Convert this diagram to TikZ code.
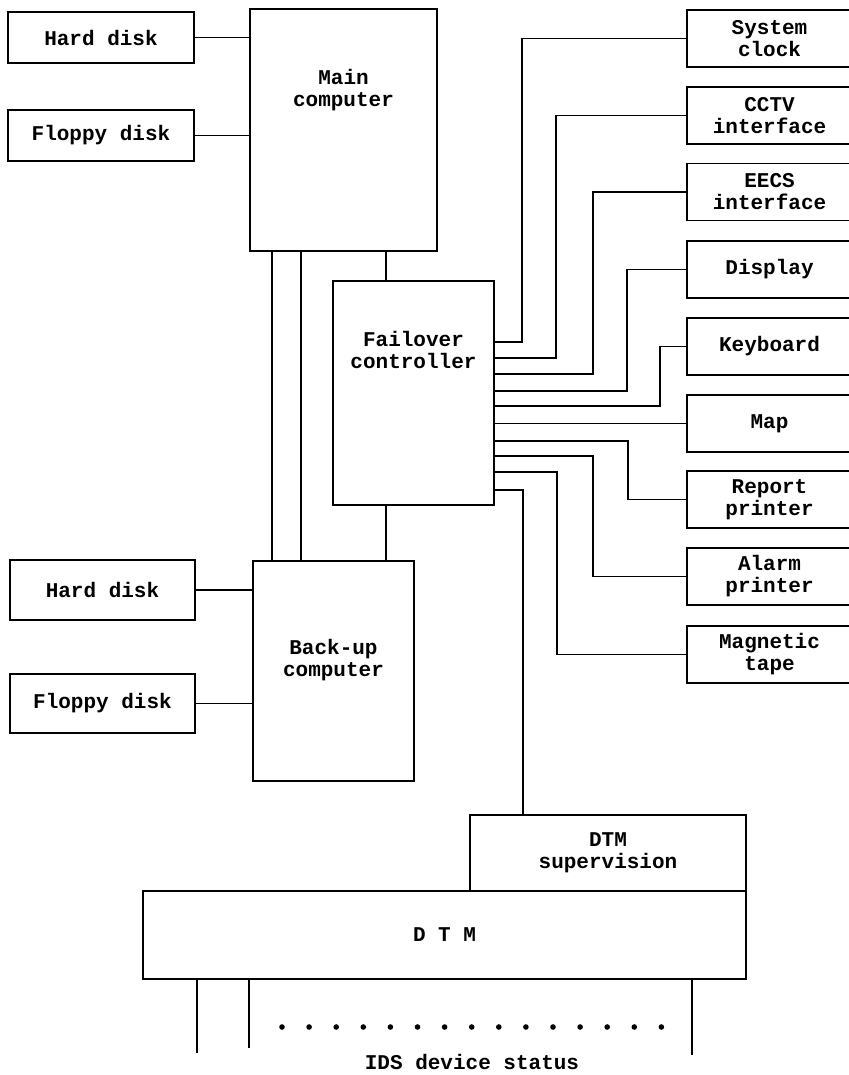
\documentclass[tikz,border=0pt]{standalone}
\usepackage{fontspec}
\setmonofont{Liberation Mono}
\usepackage{tikz}
\usetikzlibrary{positioning,calc}

\begin{document}
\begin{tikzpicture}[
  x=1pt, y=-1pt,
  every node/.style={font=\ttfamily\bfseries\fontsize{21}{22}\selectfont},
  unit/.style={draw, line width=1.3pt, align=center, inner sep=0pt},
  disk/.style={unit, minimum width=186pt, minimum height=51pt},
  side/.style={unit, minimum width=165pt, minimum height=57pt},
  tag/.style={align=center, inner sep=0pt},
  link/.style={line width=1.3pt},
]
\useasboundingbox (0,0) rectangle (848,1075);

% Main side
\node[disk] (hdA) at (101,37.5) {Hard disk};
\node[disk] (fdA) at (101,135.5) {Floppy disk};
\node[unit, minimum width=187pt, minimum height=242pt] (main) at (343.5,130) {};
\node[tag] (maintxt) at (343.5,90) {Main\\computer};

% Failover controller
\node[unit, minimum width=161pt, minimum height=224pt] (fail) at (413.5,393) {};
\node[tag] (failtxt) at (413.5,350) {Failover\\controller};

% Back-up side
\node[disk, minimum width=185pt, minimum height=60pt] (hdB) at (102.5,590) {Hard disk};
\node[disk, minimum width=185pt, minimum height=59pt] (fdB) at (102.5,703.5) {Floppy disk};
\node[unit, minimum width=161pt, minimum height=220pt] (backup) at (333.5,671) {};
\node[tag] (backuptxt) at (333.5,660) {Back-up\\computer};

% Peripherals
\node[side] (clock) at (769.5,38.5) {System\\clock};
\node[side] (cctv) at (769.5,115.5) {CCTV\\interface};
\node[side] (eecs) at (769.5,192) {EECS\\interface};
\node[side] (disp) at (769.5,269.5) {Display};
\node[side] (keyb) at (769.5,346.5) {Keyboard};
\node[side] (map) at (769.5,423.5) {Map};
\node[side] (rprint) at (769.5,499.5) {Report\\printer};
\node[side] (aprint) at (769.5,576.5) {Alarm\\printer};
\node[side] (tape) at (769.5,654.5) {Magnetic\\tape};

% DTM
\node[unit, minimum width=276pt, minimum height=76pt] (sup) at (608,853) {DTM\\supervision};
\node[unit, minimum width=603pt, minimum height=88pt] (dtm) at (444.5,935) {D T M};
\node[tag] (ids) at (472,1062) {IDS device status};

% Disk links
\draw[link] (hdA.east) -- (main.west |- hdA.east);
\draw[link] (fdA.east) -- (main.west |- fdA.east);
\draw[link] (hdB.east) -- (backup.west |- hdB.east);
\draw[link] (fdB.east) -- (backup.west |- fdB.east);

% Computer links
\draw[link] (main.south -| 272,0) -- (backup.north -| 272,0);
\draw[link] (main.south -| 301,0) -- (backup.north -| 301,0);
\draw[link] (main.south -| 386,0) -- (fail.north -| 386,0);
\draw[link] (fail.south -| 386,0) -- (backup.north -| 386,0);

% Fan-out
\foreach \t/\y/\x in {clock/342/522, cctv/358/556, eecs/374/593, disp/391/627,
    keyb/406/660, rprint/441/628, aprint/456/593, tape/472/557}
  \draw[link] (fail.east |- 0,\y) -| (\x,0 |- \t.west) -- (\t.west);
\draw[link] (fail.east |- map.west) -- (map.west);
\draw[link] (fail.east |- 0,490) -| (sup.north -| 523,0);

% Status lines
\coordinate (s1) at (197,1053);
\coordinate (s2) at (249,1048);
\coordinate (s3) at (692,1055);
\draw[link] (dtm.south -| s1) -- (s1);
\draw[link] (dtm.south -| s2) -- (s2);
\draw[link] (dtm.south -| s3) -- (s3);
\foreach \i in {0,...,14}
  \fill (282+27.1*\i,1027) circle (2.8pt);

\end{tikzpicture}
\end{document}
